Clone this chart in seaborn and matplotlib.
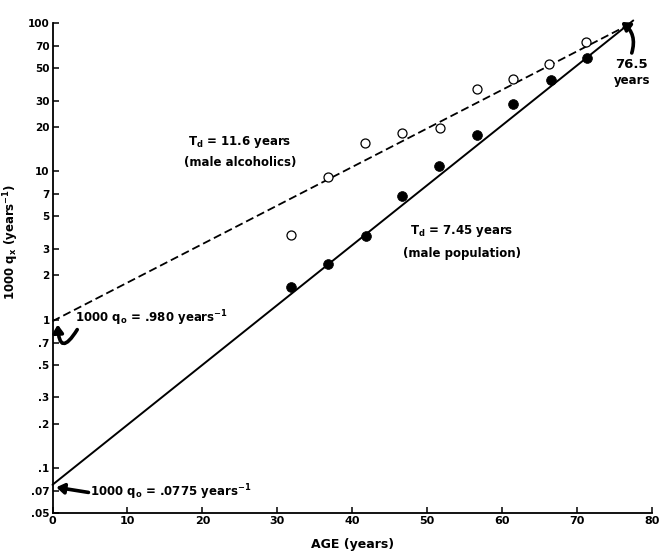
import matplotlib
matplotlib.use("Agg")
import matplotlib.pyplot as plt
import seaborn as sns
import numpy as np
import pandas as pd

# ---- data ----
pop_age = [31.8, 36.8, 41.8, 46.7, 51.6, 56.6, 61.5, 66.5, 71.3]
pop_q = [1.67, 2.38, 3.67, 6.86, 10.9, 17.6, 28.3, 41.3, 57.8]
alc_age = [31.8, 36.8, 41.7, 46.7, 51.7, 56.6, 61.4, 66.3, 71.2]
alc_q = [3.73, 9.13, 15.5, 18.2, 19.7, 35.9, 42.0, 52.9, 74.8]

fit_age = [0, 77.5]
pop_fit = [0.0775, 104.0]
alc_fit = [0.980, 101.0]

x_ticks = [0, 10, 20, 30, 40, 50, 60, 70, 80]
y_ticks = [100, 70, 50, 30, 20, 10, 7, 5, 3, 2, 1, 0.7, 0.5, 0.3, 0.2, 0.1, 0.07, 0.05]
y_tick_labels = ["100", "70", "50", "30", "20", "10", "7", "5", "3", "2", "1",
                 ".7", ".5", ".3", ".2", ".1", ".07", ".05"]

sns.set_style("ticks")
plt.rcParams['font.family'] = ['DejaVu Sans']
plt.rcParams['font.weight'] = 'bold'
plt.rcParams['mathtext.default'] = 'regular'
for k in ['text.color', 'axes.labelcolor', 'xtick.color', 'ytick.color', 'axes.edgecolor']:
    plt.rcParams[k] = 'black'

fig = plt.figure(figsize=(6.6, 5.53), dpi=100)
ax = fig.add_axes([52.5 / 660, 40 / 553, 599.5 / 660, 490 / 553])

sns.lineplot(x=fit_age, y=pop_fit, ax=ax, color="black", lw=1.4, clip_on=False)
sns.lineplot(x=fit_age, y=alc_fit, ax=ax, color="black", lw=1.3, linestyle="--", clip_on=False)
ax.lines[-1].set_dashes((4.5, 2.2))

sns.scatterplot(x=pop_age, y=pop_q, ax=ax, color="black", s=50, edgecolor="black",
                linewidth=0.5, zorder=5, clip_on=False)
sns.scatterplot(x=alc_age, y=alc_q, ax=ax, facecolor="white", s=42, edgecolor="black",
                linewidth=0.9, zorder=5, clip_on=False)

ax.set_yscale("log")
ax.set_xlim(0, 80)
ax.set_ylim(0.05, 100)
ax.set_xticks(x_ticks)
ax.set_xticklabels([str(t) for t in x_ticks], fontsize=8, fontweight="bold")
ax.set_yticks(y_ticks)
ax.set_yticklabels(y_tick_labels, fontsize=7.5, fontweight="bold")
ax.yaxis.set_minor_locator(matplotlib.ticker.NullLocator())
ax.tick_params(direction="in", length=4, width=1.1, pad=2, colors="black")
for s in ["top", "right"]:
    ax.spines[s].set_visible(False)
for s in ["left", "bottom"]:
    ax.spines[s].set_linewidth(1.3)
    ax.spines[s].set_color("black")

ax.set_xlabel("AGE (years)", fontsize=9, fontweight="bold")
ax.set_ylabel("1000 q$_x$ (years$^{-1}$)", fontsize=8.5, fontweight="bold")
ax.xaxis.set_label_coords(0.5, -0.052)
ax.yaxis.set_label_coords(-0.052, 0.553)

tk = dict(fontsize=8.5, fontweight="bold", ha="center", va="center")
ax.text(25, 15.8, "T$_d$ = 11.6 years", **tk)
ax.text(25, 11.4, "(male alcoholics)", **tk)
ax.text(54.6, 3.96, "T$_d$ = 7.45 years", **tk)
ax.text(54.7, 2.82, "(male population)", **tk)
ax.text(77.3, 52.2, "76.5", fontsize=9.5, fontweight="bold", ha="center", va="center")
ax.text(77.3, 41.3, "years", fontsize=8.5, fontweight="bold", ha="center", va="center")
ax.text(3.0, 1.03, "1000 q$_o$ = .980 years$^{-1}$", fontsize=8.5, fontweight="bold",
        ha="left", va="center")
ax.text(5.0, 0.0692, "1000 q$_o$ = .0775 years$^{-1}$", fontsize=8.5, fontweight="bold",
        ha="left", va="center")

arw = dict(arrowstyle="-|>,head_length=0.45,head_width=0.3", color="black", lw=2.6,
           shrinkA=0, shrinkB=0)
ax.annotate("", xy=(75.9, 101.6), xytext=(77.3, 62.8),
            arrowprops=dict(connectionstyle="arc3,rad=0.35", **arw), annotation_clip=False)
ax.annotate("", xy=(0.7, 0.93), xytext=(3.3, 0.86),
            arrowprops=dict(connectionstyle="arc3,rad=-1.6", **arw), annotation_clip=False)
ax.annotate("", xy=(0.5, 0.0745), xytext=(4.8, 0.0688),
            arrowprops=dict(connectionstyle="arc3,rad=0.0", **arw), annotation_clip=False)

fig.savefig("out.png", dpi=100)
